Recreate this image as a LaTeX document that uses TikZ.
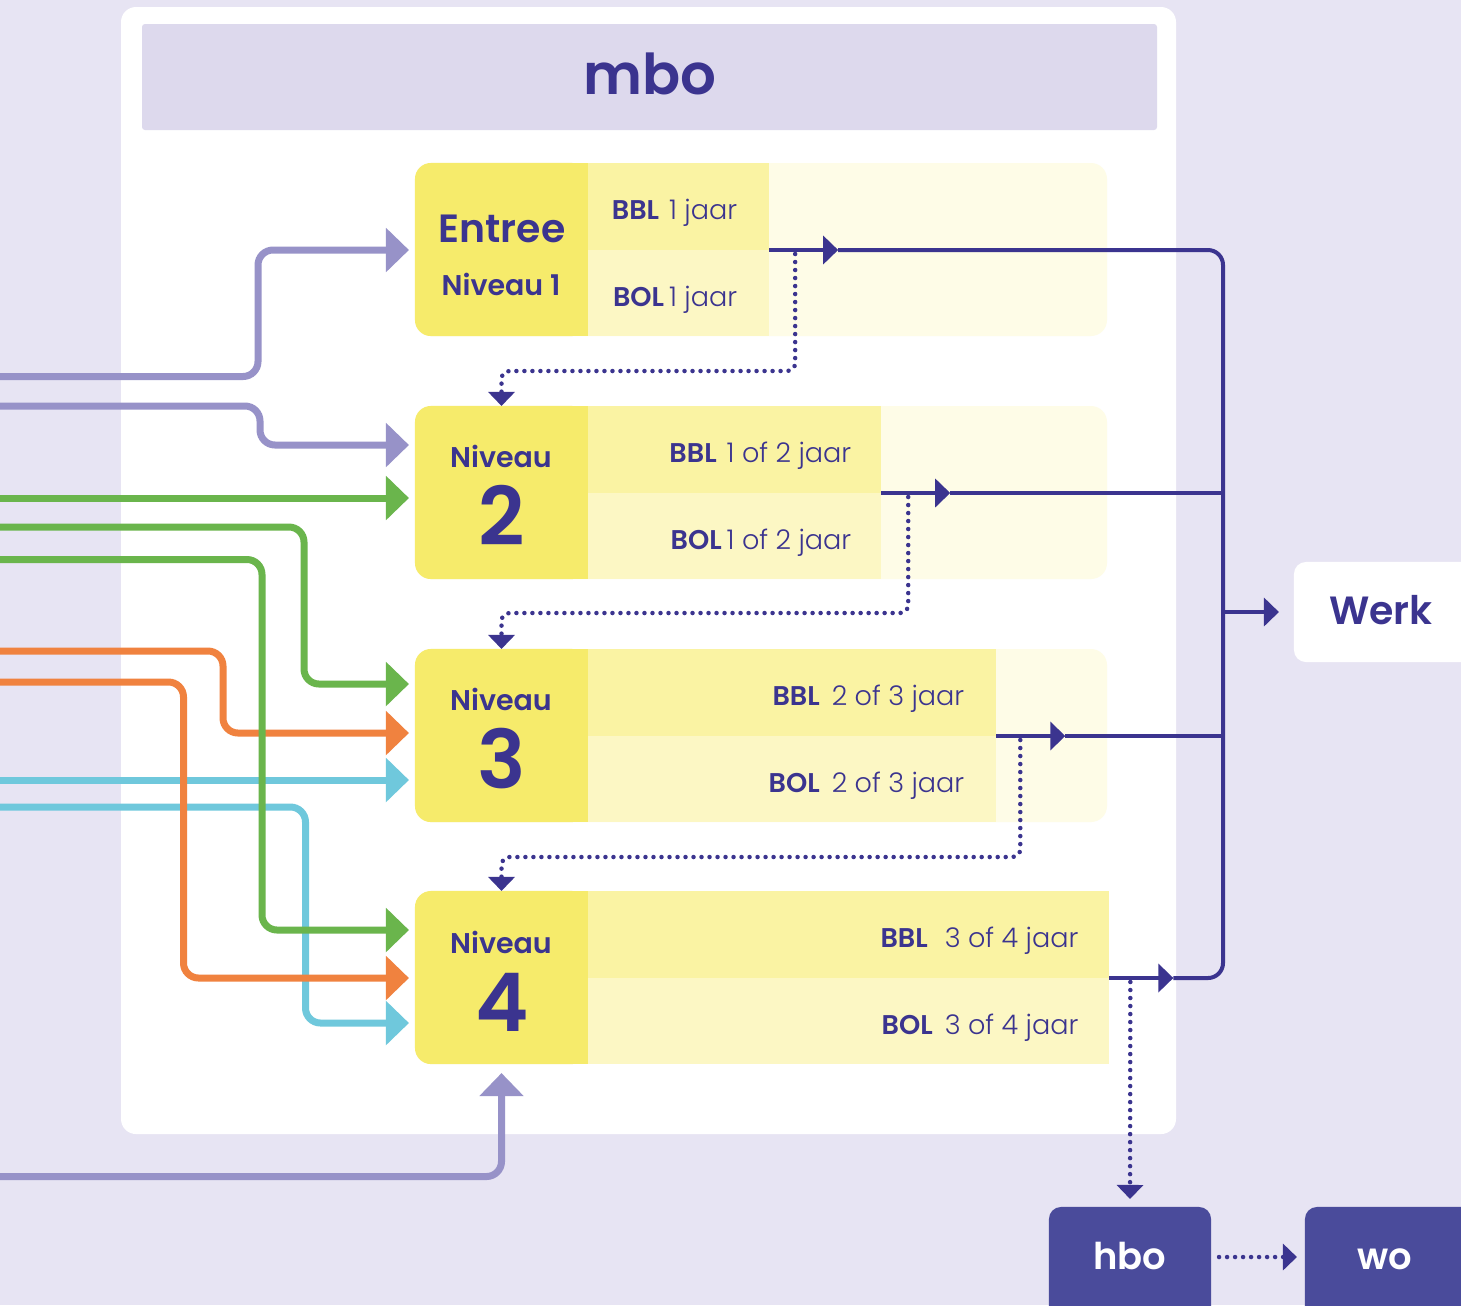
\documentclass[tikz,border=0pt]{standalone}
\usepackage{fontspec}
\setmainfont{Poppins}[UprightFont={Poppins Light}, BoldFont={Poppins SemiBold}]
\usetikzlibrary{arrows.meta,calc,positioning}

\definecolor{bgc}{HTML}{E7E4F3}
\definecolor{headc}{HTML}{DDD9ED}
\definecolor{ink}{HTML}{3B348F}
\definecolor{hoogc}{HTML}{4A4B9B}
\definecolor{yel}{HTML}{F6EB6B}
\definecolor{bblc}{HTML}{FAF3A3}
\definecolor{bolc}{HTML}{FCF7C4}
\definecolor{extc}{HTML}{FEFCE7}
\definecolor{purp}{HTML}{9792C8}
\definecolor{grn}{HTML}{6AB54C}
\definecolor{org}{HTML}{F0823F}
\definecolor{cyn}{HTML}{6FC8DC}

\newcommand\mbofont{\fontsize{16}{18}\selectfont\bfseries}
\newcommand\entreefont{\fontsize{11.2}{13}\selectfont\bfseries}
\newcommand\niveaufont{\fontsize{8.1}{10}\selectfont\bfseries}
\newcommand\digitfont{\fontsize{23}{26}\selectfont\bfseries}
\newcommand\cellfont{\fontsize{7.7}{9}\selectfont}
\newcommand\werkfont{\fontsize{11.2}{13}\selectfont\bfseries}
\newcommand\hbofont{\fontsize{10.5}{12}\selectfont\bfseries}

\tikzset{
  lvlbox/.style={fill=yel, minimum width=1.73cm, minimum height=1.73cm, rounded corners=0.16cm},
  bblcell/.style={fill=bblc, anchor=north west, minimum height=0.87cm},
  bolcell/.style={fill=bolc, anchor=north west, minimum height=0.86cm},
  txt/.style={text=ink},
  inarrow/.style={line width=0.07cm, rounded corners=0.15cm, shorten >=0.06cm,
    -{Triangle[length=0.23cm,width=0.43cm]}},
  busline/.style={draw=ink, line width=0.04cm},
  midtip/.style={-{Triangle[length=0.15cm,width=0.28cm]}},
  dots/.style={draw=ink, line width=0.045cm, line cap=round, dash pattern=on 0pt off 0.08cm,
    rounded corners=0.08cm, -{Triangle[length=0.14cm,width=0.26cm]}},
  endbox/.style={rounded corners=0.12cm, minimum height=1.12cm},
}

\begin{document}
\begin{tikzpicture}[x=0.01cm, y=-0.01cm, every node/.style={inner sep=0pt, outer sep=0pt}]
\useasboundingbox (0,0) rectangle (1461,1305);
\fill[bgc] (0,0) rectangle (1461,1305);
% mbo panel
\fill[white, rounded corners=0.15cm] (121,7) rectangle (1176,1134);
\fill[headc, rounded corners=0.03cm] (142,24) rectangle (1157,130);
\node[txt, anchor=base] (mbo) at (650,94) {\mbofont mbo};
% pale tails behind the first three rows
\fill[extc, rounded corners=0.16cm] (415,163) rectangle (1107,336);
\fill[extc, rounded corners=0.16cm] (415,406) rectangle (1107,579);
\fill[extc, rounded corners=0.16cm] (415,649) rectangle (1107,822);
% level boxes, square on the right
\node[lvlbox] (lvl1) at (501.5,249.5) {};
\node[lvlbox] (lvl2) at (501.5,492.5) {};
\node[lvlbox] (lvl3) at (501.5,735.5) {};
\node[lvlbox] (lvl4) at (501.5,977.5) {};
\fill[yel] (lvl1.north) rectangle (lvl1.south east);
\fill[yel] (lvl2.north) rectangle (lvl2.south east);
\fill[yel] (lvl3.north) rectangle (lvl3.south east);
\fill[yel] (lvl4.north) rectangle (lvl4.south east);
% BBL and BOL cells
\node[bblcell, minimum width=1.81cm] (bbl1) at (lvl1.north east) {};
\node[bolcell, minimum width=1.81cm] (bol1) at (bbl1.south west) {};
\node[bblcell, minimum width=2.93cm] (bbl2) at (lvl2.north east) {};
\node[bolcell, minimum width=2.93cm] (bol2) at (bbl2.south west) {};
\node[bblcell, minimum width=4.08cm] (bbl3) at (lvl3.north east) {};
\node[bolcell, minimum width=4.08cm] (bol3) at (bbl3.south west) {};
\node[bblcell, minimum width=5.21cm] (bbl4) at (lvl4.north east) {};
\node[bolcell, minimum width=5.21cm] (bol4) at (bbl4.south west) {};
% level texts
\node[txt, anchor=base] (entree) at (502,242) {\entreefont Entree};
\node[txt, anchor=base] (niv1) at (501,295) {\niveaufont Niveau 1};
\node[txt, anchor=base] (niv2) at (501,467) {\niveaufont Niveau};
\node[txt, anchor=base] (dig2) at (502,545) {\digitfont 2};
\node[txt, anchor=base] (niv3) at (501,710) {\niveaufont Niveau};
\node[txt, anchor=base] (dig3) at (502,788) {\digitfont 3};
\node[txt, anchor=base] (niv4) at (501,953) {\niveaufont Niveau};
\node[txt, anchor=base] (dig4) at (502,1031) {\digitfont 4};
% cell texts
\node[txt, anchor=base east] (bbl1t) at ($(bbl1.east)+(-32,13)$) {\cellfont\textbf{BBL}\hspace{0.1cm}1 jaar};
\node[txt, anchor=base east] (bol1t) at ($(bol1.east)+(-32,13)$) {\cellfont\textbf{BOL}\hspace{0.05cm}1 jaar};
\node[txt, anchor=base east] (bbl2t) at ($(bbl2.east)+(-30,13)$) {\cellfont\textbf{BBL}\hspace{0.1cm}1 of 2 jaar};
\node[txt, anchor=base east] (bol2t) at ($(bol2.east)+(-30,13)$) {\cellfont\textbf{BOL}\hspace{0.05cm}1 of 2 jaar};
\node[txt, anchor=base east] (bbl3t) at ($(bbl3.east)+(-32,13)$) {\cellfont\textbf{BBL}\hspace{0.12cm}2 of 3 jaar};
\node[txt, anchor=base east] (bol3t) at ($(bol3.east)+(-32,13)$) {\cellfont\textbf{BOL}\hspace{0.12cm}2 of 3 jaar};
\node[txt, anchor=base east] (bbl4t) at ($(bbl4.east)+(-31,13)$) {\cellfont\textbf{BBL}\hspace{0.17cm}3 of 4 jaar};
\node[txt, anchor=base east] (bol4t) at ($(bol4.east)+(-31,13)$) {\cellfont\textbf{BOL}\hspace{0.12cm}3 of 4 jaar};
% Werk, hbo and wo
\node[endbox, fill=white, minimum width=1.86cm, minimum height=1.0cm] (werk) at (1387,612) {};
\node[txt, anchor=base] (werkt) at (1381,624) {\werkfont Werk};
\node[endbox, fill=hoogc, minimum width=1.62cm] (hbo) at (1130,1263) {};
\node[text=white, anchor=base] (hbot) at (1130,1269) {\hbofont hbo};
\node[endbox, fill=hoogc, minimum width=1.75cm] (wo) at (1392.5,1263) {};
\node[text=white, anchor=base] (wot) at (1385,1269) {\hbofont wo};
% Lines into the levels
\draw[inarrow, purp] (0,376.5) -| (258,250) -- (lvl1.west |- 0,250);
\draw[inarrow, purp] (0,406) -| (260,445) -- (lvl2.west |- 0,445);
\draw[inarrow, purp, shorten >=0.09cm] (0,1176.5) -| (lvl4.south);
\draw[inarrow, cyn] (0,780) -- (lvl3.west |- 0,780);
\draw[inarrow, cyn] (0,807) -| (305.5,1023) -- (lvl4.west |- 0,1023);
\draw[inarrow, org] (0,651) -| (223,733) -- (lvl3.west |- 0,733);
\draw[inarrow, org] (0,682) -| (183.5,978) -- (lvl4.west |- 0,978);
\draw[inarrow, grn] (0,498) -- (lvl2.west |- 0,498);
\draw[inarrow, grn] (0,527) -| (304,684) -- (lvl3.west |- 0,684);
\draw[inarrow, grn] (0,559.5) -| (262,930) -- (lvl4.west |- 0,930);
% Lines to Werk
\coordinate (bus) at (1223,612);
\draw[busline, midtip] (bbl1.south east) -- ++(69,0) coordinate (tip1);
\draw[busline, midtip] (bbl2.south east) -- ++(69,0) coordinate (tip2);
\draw[busline, midtip] (bbl3.south east) -- ++(69,0) coordinate (tip3);
\draw[busline, midtip] (bbl4.south east) -- ++(64,0) coordinate (tip4);
\draw[busline, rounded corners=0.15cm] (tip1) -| (bus) |- (tip4);
\draw[busline] (tip2) -- (tip2 -| bus);
\draw[busline] (tip3) -- (tip3 -| bus);
\draw[busline, midtip, shorten >=0.15cm] (bus) -- (werk.west);
% Dotted lines to the next level
\draw[dots] ($(bbl1.south east)+(26,4)$) |- (lvl2.north |- 0,371) -- (lvl2.north);
\draw[dots] ($(bbl2.south east)+(27,4)$) |- (lvl3.north |- 0,613) -- (lvl3.north);
\draw[dots] ($(bbl3.south east)+(24,4)$) |- (lvl4.north |- 0,857) -- (lvl4.north);
\draw[dots, shorten >=0.08cm] ($(bbl4.south east)+(21,4)$) -- (hbo.north);
\draw[dots, shorten <=0.08cm, shorten >=0.08cm] (hbo.east |- 0,1257) -- (wo.west |- 0,1257);
\end{tikzpicture}
\end{document}
